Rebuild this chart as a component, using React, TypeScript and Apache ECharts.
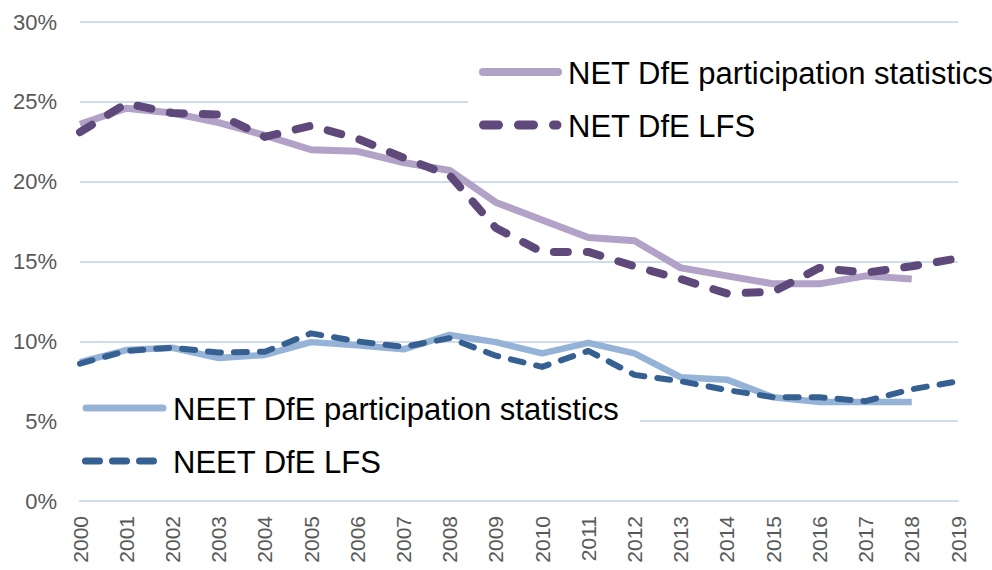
import React, { useEffect, useRef } from "react";
import * as echarts from "echarts";

const years = ["2000","2001","2002","2003","2004","2005","2006","2007","2008","2009","2010","2011","2012","2013","2014","2015","2016","2017","2018","2019"];
const netParticipation = [23.6, 24.6, 24.3, 23.7, 22.9, 22.0, 21.9, 21.2, 20.7, 18.7, 17.6, 16.5, 16.3, 14.6, 14.1, 13.6, 13.6, 14.1, 13.9, null];
const netLFS = [23.1, 24.9, 24.3, 24.2, 22.8, 23.5, 22.7, 21.5, 20.4, 17.1, 15.6, 15.6, 14.7, 13.9, 13.0, 13.1, 14.6, 14.3, 14.7, 15.2];
const neetParticipation = [8.7, 9.45, 9.6, 8.95, 9.15, 9.95, 9.75, 9.5, 10.4, 9.95, 9.25, 9.9, 9.25, 7.75, 7.6, 6.5, 6.2, 6.2, 6.2, null];
const neetLFS = [8.6, 9.4, 9.6, 9.3, 9.35, 10.5, 10.0, 9.65, 10.2, 9.1, 8.4, 9.4, 7.9, 7.5, 6.95, 6.5, 6.5, 6.25, 7.0, 7.5];
const yTicks = [0, 5, 10, 15, 20, 25, 30];

const names = [
  "NET DfE participation statistics",
  "NET DfE LFS",
  "NEET DfE participation statistics",
  "NEET DfE LFS",
];

const colors = ["#B3A2C7", "#5F497A", "#95B3D7", "#376092"];

export default function App() {
  const ref = useRef<HTMLDivElement>(null);
  useEffect(() => {
    if (!ref.current) return;
    const chart = echarts.init(ref.current, null, { renderer: "svg" });
    const font = "'Liberation Sans', Arial, sans-serif";
    const gridColor = "#D0DDEF";
    const legendText = (x: number, y: number, t: string) => ({
      type: "text",
      x,
      y,
      z: 51,
      style: { text: t, fontSize: 31, fill: "#000", fontFamily: font, verticalAlign: "middle", align: "left" },
    });
    chart.setOption({
      animation: false,
      textStyle: { fontFamily: font },
      grid: { left: 80, right: 34, top: 22, bottom: 69, containLabel: false },
      xAxis: {
        type: "category",
        data: years,
        boundaryGap: false,
        axisLine: { show: true, lineStyle: { color: gridColor, width: 2 } },
        axisTick: { show: false },
        axisLabel: { rotate: 90, fontSize: 21, color: "#595959", margin: 15, fontFamily: font },
        splitLine: { show: false },
      },
      yAxis: {
        type: "value",
        min: yTicks[0],
        max: yTicks[yTicks.length - 1],
        interval: 5,
        axisLine: { show: false },
        axisTick: { show: false },
        axisLabel: { formatter: "{value}%", fontSize: 22, color: "#595959", margin: 23, fontFamily: font },
        splitLine: { lineStyle: { color: gridColor, width: 2 } },
      },
      graphic: [
        { type: "rect", z: 50, shape: { x: 468, y: 45, width: 524, height: 105 }, style: { fill: "#fff" } },
        { type: "line", z: 51, shape: { x1: 483, y1: 72, x2: 558, y2: 72 }, style: { stroke: colors[0], lineWidth: 8, lineCap: "round" } },
        { type: "line", z: 51, shape: { x1: 483.5, y1: 125, x2: 557, y2: 125 }, style: { stroke: colors[1], lineWidth: 9, lineCap: "round", lineDash: [15, 20] } },
        legendText(568, 73, names[0]),
        legendText(568, 126, names[1]),
        { type: "rect", z: 50, shape: { x: 80, y: 386, width: 560, height: 100 }, style: { fill: "#fff" } },
        { type: "line", z: 51, shape: { x1: 86, y1: 408, x2: 163, y2: 408 }, style: { stroke: colors[2], lineWidth: 7, lineCap: "round" } },
        { type: "line", z: 51, shape: { x1: 85.5, y1: 461, x2: 155.5, y2: 461 }, style: { stroke: colors[3], lineWidth: 7, lineCap: "round", lineDash: [14, 13] } },
        legendText(173, 409, names[2]),
        legendText(173, 462, names[3]),
      ],
      series: [
        {
          name: names[0],
          type: "line",
          data: netParticipation,
          symbol: "none",
          lineStyle: { color: colors[0], width: 7, join: "round" },
          itemStyle: { color: colors[0] },
          z: 2,
        },
        {
          name: names[1],
          type: "line",
          data: netLFS,
          symbol: "none",
          lineStyle: { color: colors[1], width: 8, type: [14, 19], cap: "round", join: "round" },
          itemStyle: { color: colors[1] },
          z: 3,
        },
        {
          name: names[2],
          type: "line",
          data: neetParticipation,
          symbol: "none",
          lineStyle: { color: colors[2], width: 6.5, join: "round" },
          itemStyle: { color: colors[2] },
          z: 2,
        },
        {
          name: names[3],
          type: "line",
          data: neetLFS,
          symbol: "none",
          lineStyle: { color: colors[3], width: 6, type: [13, 13], cap: "round", join: "round" },
          itemStyle: { color: colors[3] },
          z: 3,
        },
      ],
    });
    return () => chart.dispose();
  }, []);
  return <div ref={ref} style={{ position: "absolute", left: 0, top: 0, width: 992, height: 570 }} />;
}
